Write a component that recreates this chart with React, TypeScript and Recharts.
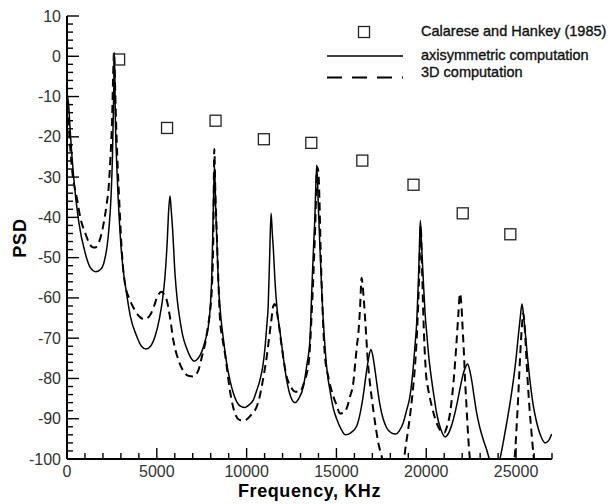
import { ComposedChart, Line, Scatter, XAxis, YAxis } from "recharts";

// Calarese and Hankey (1985) measurements
const calaresePoints: [number, number][] = [
  [2900, -0.8], [5570, -17.8], [8270, -16.0], [10960, -20.6], [13600, -21.5],
  [16440, -25.9], [19290, -31.9], [22030, -39.0], [24680, -44.2],
];

// axisymmetric computation (solid)
const axisymmetricPoints: [number, number][] = [
  [0, -9], [90, -12], [185, -19], [370, -30], [650, -41], [1020, -49], [1300, -52.5], [1600, -53.5],
  [1850, -53], [2040, -51.5], [2320, -43.5], [2450, -35], [2530, -25], [2600, -9], [2640, 1],
  [2690, -15], [2780, -28], [2880, -38], [3020, -48], [3155, -54], [3320, -59], [3525, -64.5],
  [3880, -69.5], [4150, -72], [4400, -72.7], [4650, -72], [4900, -69.6], [5150, -65], [5300, -61],
  [5450, -55], [5585, -45.5], [5650, -39], [5734, -34.7], [5800, -38], [5880, -43], [6012, -54],
  [6150, -61], [6290, -65.5], [6450, -69.5], [6660, -72.5], [6850, -74.5], [7090, -75.7],
  [7300, -75], [7500, -73.4], [7700, -70.5], [7870, -67], [8050, -56], [8145, -38], [8210, -27],
  [8280, -38], [8330, -44], [8420, -55.6], [8550, -64], [8700, -70], [8880, -76], [9070, -80.4],
  [9250, -83.5], [9450, -85.8], [9700, -87], [9910, -87.2], [10150, -86.5], [10370, -85.4],
  [10560, -83], [10740, -80.4], [10900, -77], [11020, -72.5], [11120, -67], [11200, -62],
  [11280, -50], [11360, -39], [11430, -44], [11490, -48], [11580, -56], [11700, -63],
  [11860, -68.5], [12050, -75], [12230, -80.4], [12450, -84.5], [12690, -86], [12900, -85],
  [13160, -82], [13340, -77], [13530, -70], [13620, -59], [13700, -50], [13800, -40], [13900, -27],
  [13990, -37], [14085, -48], [14200, -60], [14360, -72], [14500, -79], [14640, -83],
  [14830, -87.5], [15010, -90], [15250, -92.5], [15500, -94], [15800, -93.5], [16130, -91.8],
  [16350, -88], [16500, -84], [16650, -79], [16770, -75.5], [16920, -72.8], [17030, -74.5],
  [17150, -78], [17300, -83], [17420, -86.5], [17600, -90], [17800, -92.3], [18050, -93.5],
  [18300, -93.8], [18500, -93], [18720, -91], [18900, -88], [19090, -84.5], [19250, -78.5],
  [19370, -72], [19470, -66], [19560, -56], [19610, -49], [19670, -40.8], [19740, -47],
  [19840, -56], [19930, -63.5], [20020, -68.5], [20150, -75], [20300, -80.4], [20450, -85],
  [20580, -88.7], [20800, -92.5], [21040, -94.5], [21250, -93.5], [21500, -90.3], [21700, -86.5],
  [21880, -82.5], [22050, -79], [22160, -77.5], [22300, -76.4], [22420, -78], [22530, -80.5],
  [22680, -85], [22810, -88.7], [23000, -92.5], [23180, -95.3], [23350, -97.5], [23510, -100],
  [23800, -103.5], [24100, -100], [24300, -95.5], [24480, -91], [24650, -86.5], [24850, -80.4],
  [25000, -75], [25120, -69.6], [25230, -65], [25330, -61.5], [25420, -64.5], [25500, -68],
  [25630, -74.5], [25770, -80.4], [25950, -86.5], [26150, -91], [26350, -94], [26610, -96],
  [26800, -95.5], [26980, -93.8],
];

// 3D computation (dashed)
const threeDPoints: [number, number][] = [
  [0, -12], [90, -17], [185, -23], [280, -28], [560, -35.5], [740, -40], [1020, -44], [1390, -47.3],
  [1560, -47.5], [1750, -46.5], [2040, -41.5], [2200, -37], [2320, -32.5], [2420, -25],
  [2505, -16.5], [2580, -3], [2620, 1], [2670, -6], [2710, -13], [2800, -25], [2910, -36],
  [3020, -46], [3130, -53], [3250, -57], [3450, -60], [3710, -62.5], [4000, -64.5], [4300, -65.3],
  [4620, -64.3], [4850, -62], [5000, -60], [5270, -58.5], [5450, -59.5], [5550, -60.5],
  [5730, -64.7], [5920, -70.5], [6200, -75.4], [6570, -78.7], [6800, -79.4], [7030, -79.5],
  [7310, -78], [7500, -74.8], [7680, -71.5], [7850, -67], [7960, -63.5], [8080, -56], [8145, -45],
  [8200, -23], [8260, -34], [8330, -43], [8420, -55], [8520, -65.5], [8650, -70], [8800, -74],
  [9070, -83], [9350, -88.7], [9600, -90.3], [9815, -90.5], [10050, -90], [10300, -88.8],
  [10560, -87], [10700, -85], [10840, -82], [11000, -78], [11120, -74.6], [11250, -70],
  [11390, -65], [11480, -62], [11560, -61.5], [11660, -63], [11760, -65.5], [11950, -72],
  [12230, -79.6], [12450, -82], [12700, -83.3], [12970, -83.3], [13200, -81], [13340, -79],
  [13500, -74], [13620, -64], [13720, -54], [13820, -42], [13930, -27.5], [14000, -29],
  [14050, -35], [14120, -48], [14220, -62], [14360, -74.6], [14550, -79.6], [14830, -84.5],
  [15000, -86.5], [15200, -88.7], [15400, -88.5], [15570, -87.4], [15750, -84.6], [15940, -81],
  [16050, -76], [16150, -71.5], [16220, -68.8], [16320, -62], [16400, -55], [16480, -58],
  [16590, -64.7], [16770, -77], [16900, -82.5], [17050, -87.8], [17200, -92.5], [17330, -96],
  [17520, -99.4], [17700, -103], [18200, -108], [18700, -103], [18820, -98], [18950, -94],
  [19090, -89.5], [19230, -84], [19370, -77], [19470, -70], [19560, -60.5], [19620, -52],
  [19690, -42], [19760, -52], [19840, -64.7], [19990, -79], [20100, -82.5], [20210, -85],
  [20400, -88.5], [20580, -91.1], [20800, -93], [21000, -93.5], [21150, -92], [21320, -88.7],
  [21450, -84], [21600, -76.3], [21700, -70], [21790, -63.8], [21880, -58.9], [21960, -62],
  [22030, -68], [22100, -74], [22160, -80.4], [22230, -86], [22290, -91], [22400, -98.6],
  [22550, -104], [23700, -115], [24800, -104], [24940, -98.6], [25030, -92], [25120, -84.5],
  [25220, -75], [25310, -68], [25400, -63.8], [25490, -68], [25590, -76.3], [25680, -83],
  [25770, -88.7], [25870, -94], [25960, -98.6], [26100, -103], [26600, -110], [27000, -112],
];

const xMajorTicks = [0, 5000, 10000, 15000, 20000, 25000];
const xTicks = [
  0, 1000, 2000, 3000, 4000, 5000, 6000, 7000, 8000, 9000, 10000, 11000, 12000, 13000, 14000,
  15000, 16000, 17000, 18000, 19000, 20000, 21000, 22000, 23000, 24000, 25000, 26000, 27000,
];
const yMajorTicks = [-100, -90, -80, -70, -60, -50, -40, -30, -20, -10, 0, 10];
const yTicks = [
  -100, -98, -96, -94, -92, -90, -88, -86, -84, -82, -80, -78, -76, -74, -72, -70, -68, -66, -64,
  -62, -60, -58, -56, -54, -52, -50, -48, -46, -44, -42, -40, -38, -36, -34, -32, -30, -28, -26,
  -24, -22, -20, -18, -16, -14, -12, -10, -8, -6, -4, -2, 0, 2, 4, 6, 8, 10,
];

const toRows = (pts: [number, number][]) => pts.map(([x, y]) => ({ x, y }));
const calaresData = toRows(calaresePoints);
const axisymData = toRows(axisymmetricPoints);
const threeDData = toRows(threeDPoints);

const font = "'Liberation Sans', Arial, Helvetica, sans-serif";

function XTick({ x, y, payload }: any) {
  const major = xMajorTicks.includes(payload.value);
  return (
    <g>
      <line x1={x} y1={y} x2={x} y2={y - (major ? 11 : 6)} stroke="#000" strokeWidth={1.4} />
      {major && (
        <text x={x} y={y + 18} textAnchor="middle" fontSize={16} fontFamily={font} fill="#333">
          {payload.value}
        </text>
      )}
    </g>
  );
}

function YTick({ x, y, payload }: any) {
  const major = yMajorTicks.includes(payload.value);
  return (
    <g>
      <line x1={x} y1={y} x2={x + (major ? 12 : 6)} y2={y} stroke="#000" strokeWidth={1.4} />
      {major && (
        <text x={x - 6} y={y + 5.5} textAnchor="end" fontSize={16} fontFamily={font} fill="#333">
          {payload.value}
        </text>
      )}
    </g>
  );
}

function Square({ cx, cy }: any) {
  return <rect x={cx - 5.5} y={cy - 5.5} width={11} height={11} fill="none" stroke="#222" strokeWidth={1.3} />;
}

const legendText = { fontSize: 14.5, fill: "#111", stroke: "#111", strokeWidth: 0.35 };

export default function App() {
  return (
    <div style={{ position: "absolute", left: 0, top: 0, width: 613, height: 504, background: "#fff" }}>
      <ComposedChart width={613} height={504} margin={{ top: 16, right: 61, bottom: 44, left: 66 }}>
        <XAxis
          type="number"
          dataKey="x"
          domain={[0, 27000]}
          ticks={xTicks}
          interval={0}
          height={1}
          tickSize={0}
          tickMargin={0}
          tickLine={false}
          tick={<XTick />}
          axisLine={{ stroke: "#000", strokeWidth: 2 }}
          allowDataOverflow
          label={{
            content: ({ viewBox }: any) => (
              <text
                x={viewBox.x + viewBox.width / 2}
                y={497}
                textAnchor="middle"
                fontSize={18}
                fontWeight="bold"
                letterSpacing={0.6}
                fontFamily={font}
                fill="#000"
              >
                Frequency, KHz
              </text>
            ),
          }}
        />
        <YAxis
          type="number"
          dataKey="y"
          domain={[-100, 10]}
          ticks={yTicks}
          interval={0}
          width={1}
          tickSize={0}
          tickMargin={0}
          tickLine={false}
          tick={<YTick />}
          axisLine={{ stroke: "#000", strokeWidth: 2 }}
          allowDataOverflow
          label={{
            content: () => (
              <text
                x={20}
                y={238}
                transform="rotate(-90 20 238)"
                textAnchor="middle"
                dominantBaseline="central"
                fontSize={18}
                fontWeight="bold"
                letterSpacing={0.8}
                fontFamily={font}
                fill="#000"
              >
                PSD
              </text>
            ),
          }}
        />
        <Line
          data={axisymData}
          dataKey="y"
          type="monotone"
          stroke="#000"
          strokeWidth={1.5}
          dot={false}
          activeDot={false}
          isAnimationActive={false}
        />
        <Line
          data={threeDData}
          dataKey="y"
          type="monotone"
          stroke="#000"
          strokeWidth={2}
          strokeDasharray="8 5"
          dot={false}
          activeDot={false}
          isAnimationActive={false}
        />
        <Scatter data={calaresData} dataKey="y" shape={<Square />} isAnimationActive={false} />
      </ComposedChart>
      <svg
        width={613}
        height={504}
        style={{ position: "absolute", left: 0, top: 0, pointerEvents: "none" }}
        fontFamily={font}
      >
        <rect x={358.5} y={26.5} width={11} height={11} fill="none" stroke="#222" strokeWidth={1.3} />
        <text x={421} y={36} {...legendText}>Calarese and Hankey (1985)</text>
        <line x1={327} y1={56} x2={403} y2={56} stroke="#000" strokeWidth={1.6} />
        <text x={421} y={60} {...legendText}>axisymmetric computation</text>
        <line x1={327} y1={77.5} x2={403} y2={77.5} stroke="#000" strokeWidth={2} strokeDasharray="15 10" />
        <text x={421} y={77} {...legendText}>3D computation</text>
      </svg>
    </div>
  );
}
